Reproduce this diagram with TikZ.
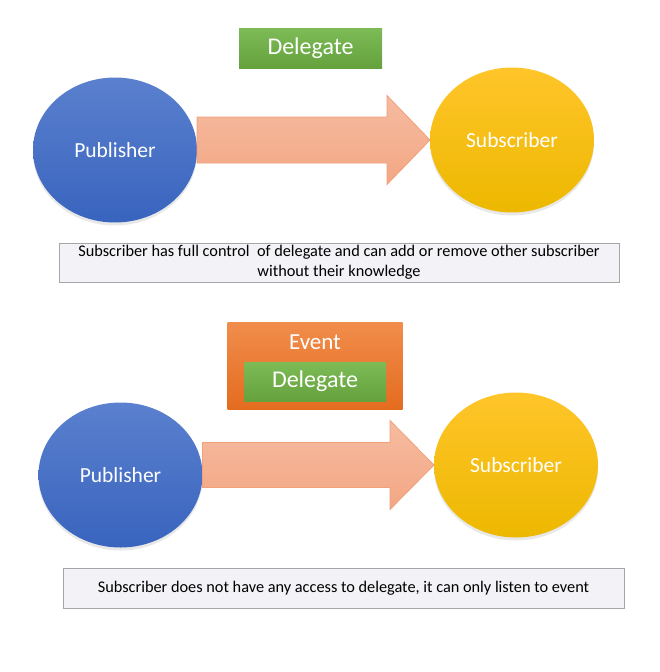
\documentclass[tikz,border=0pt]{standalone}
\usepackage{fontspec}
\setmainfont{Carlito}
\usetikzlibrary{shapes.geometric,shadows,calc}
\definecolor{pubtop}{HTML}{5A80CE}
\definecolor{pubbot}{HTML}{3964BE}
\definecolor{subtop}{HTML}{FFC52A}
\definecolor{subbot}{HTML}{EDB800}
\definecolor{arrtop}{HTML}{F6BBA0}
\definecolor{arrbot}{HTML}{F3A784}
\definecolor{arredge}{HTML}{F0A07A}
\definecolor{grntop}{HTML}{7DBB57}
\definecolor{grnbot}{HTML}{65A23D}
\definecolor{orgtop}{HTML}{F18D4C}
\definecolor{orgbot}{HTML}{E46C1F}
\definecolor{notefill}{HTML}{F3F2F6}
\definecolor{noteedge}{HTML}{A6A6A6}
\begin{document}
\begin{tikzpicture}[x=1pt,y=-1pt,
  blob/.style={ellipse, inner sep=0pt, outer sep=0pt, minimum width=164pt, minimum height=145pt,
    text=white, font=\fontsize{21.5}{25}\selectfont,
    drop shadow={opacity=0.18, shadow xshift=0pt, shadow yshift=-3pt}},
  pubblob/.style={blob, top color=pubtop, bottom color=pubbot},
  subblob/.style={blob, top color=subtop, bottom color=subbot},
  greenbox/.style={rectangle, inner sep=0pt, outer sep=0pt, top color=grntop, bottom color=grnbot,
    text=white, font=\fontsize{24}{28}\selectfont},
  eventbox/.style={rectangle, inner sep=0pt, outer sep=0pt, top color=orgtop, bottom color=orgbot},
  notebox/.style={rectangle, draw=noteedge, line width=1pt, fill=notefill, inner sep=0pt,
    align=center, font=\fontsize{16.3}{20}\selectfont},
  fatarrow/.style={draw=arredge, line width=0.8pt, top color=arrtop, bottom color=arrbot}
]
\useasboundingbox (0,0) rectangle (660,672);

% ---- top: delegate ----
\node[greenbox, minimum width=143pt, minimum height=40pt] (del1) at (310.5,48) {Delegate};
\node[pubblob] (pub1) at (115,150) {Publisher};
\node[subblob] (sub1) at (512,140) {Subscriber};
\path[fatarrow] let \p1=(pub1.east), \p2=(sub1.west) in
  (\x1,\y2+23pt) -- (\x2-43pt,\y2+23pt) -- (\x2-43pt,\y2+44.5pt) -- (\x2,\y2)
  -- (\x2-43pt,\y2-44.5pt) -- (\x2-43pt,\y2-23pt) -- (\x1,\y2-23pt) -- cycle;
\node[notebox, minimum width=560pt, minimum height=39pt] (note1) at (339,262.5)
  {Subscriber has full control\ \ of delegate and can add or remove other subscriber\\without their knowledge};

% ---- bottom: event ----
\node[eventbox, minimum width=175pt, minimum height=87pt] (ev) at (315,365.5) {};
\node[text=white, font=\fontsize{23}{27}\selectfont, inner sep=0pt] (evlabel) at (315,342) {Event};
\node[greenbox, minimum width=142pt, minimum height=39pt] (del2) at (315,381.5) {Delegate};
\node[pubblob] (pub2) at (120.5,475) {Publisher};
\node[subblob] (sub2) at (516,465) {Subscriber};
\path[fatarrow] let \p1=(pub2.east), \p2=(sub2.west) in
  (\x1,\y2+22.5pt) -- (\x2-44pt,\y2+22.5pt) -- (\x2-44pt,\y2+44.5pt) -- (\x2,\y2)
  -- (\x2-44pt,\y2-44.5pt) -- (\x2-44pt,\y2-22.5pt) -- (\x1,\y2-22.5pt) -- cycle;
\node[notebox, minimum width=561pt, minimum height=40pt] (note2) at (343.5,588)
  {Subscriber does not have any access to delegate, it can only listen to event};
\end{tikzpicture}
\end{document}
